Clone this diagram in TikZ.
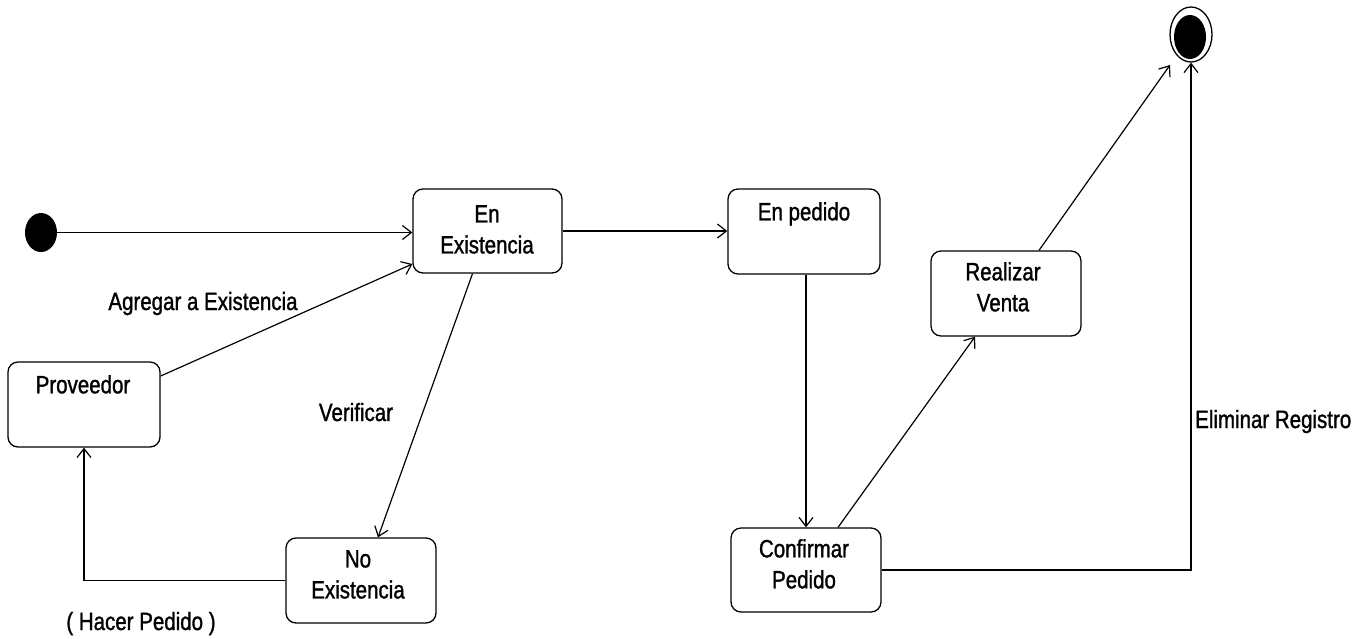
\documentclass[tikz,border=0pt]{standalone}
\usepackage{fontspec}
\setmainfont{Liberation Sans}[FakeStretch=0.82,FakeBold=1.2]
\usetikzlibrary{arrows.meta,shapes.geometric,calc}
\begin{document}
\begin{tikzpicture}[x=1pt,y=-1pt,
  statebox/.style={draw, rounded corners=10pt, line width=1.3pt, inner sep=0pt},
  txt/.style={font=\fontsize{25}{31}\selectfont, align=center, inner sep=0pt},
  arr/.style={line width=1.2pt, -{Straight Barb[length=9pt,width=14pt,line width=1.2pt]}}]
\useasboundingbox (0,0) rectangle (1364,638);
% initial and final states
\node[fill, ellipse, minimum width=32pt, minimum height=39pt, inner sep=0pt] (init) at (41,232.5) {};
\node[draw, ellipse, line width=1.3pt, minimum width=42pt, minimum height=55pt, inner sep=0pt] (fin) at (1191,34.5) {};
\node[fill, ellipse, minimum width=32pt, minimum height=44pt, inner sep=0pt] (finc) at (1190,37) {};
% states
\node[statebox, minimum width=149pt, minimum height=84pt] (ex) at (487.5,231) {};
\node[statebox, minimum width=152pt, minimum height=85pt] (ped) at (804,231.5) {};
\node[statebox, minimum width=152pt, minimum height=85pt] (prov) at (84,404.5) {};
\node[statebox, minimum width=150pt, minimum height=85pt] (noex) at (361,580.5) {};
\node[statebox, minimum width=150pt, minimum height=84pt] (conf) at (806,570) {};
\node[statebox, minimum width=150pt, minimum height=85pt] (real) at (1006,293.5) {};
% state texts
\node[txt, anchor=north] (exT) at (487,205) {En\\Existencia};
\node[txt, anchor=north] (pedT) at (804,202) {En pedido};
\node[txt, anchor=north] (provT) at (83,375) {Proveedor};
\node[txt, anchor=north] (noexT) at (358,550) {No\\Existencia};
\node[txt, anchor=north] (confT) at (804,539) {Confirmar\\Pedido};
\node[txt, anchor=north] (realT) at (1003,262) {Realizar\\Venta};
% transitions
\coordinate (finin) at (1170,65);
\draw[arr] (init) -- (init -| ex.west);
\draw[arr] ($(prov.east)+(0,-28.5)$) -- ($(ex.west)+(0,33)$);
\draw[arr] (ex.east) -- (ex.east -| ped.west);
\draw[arr] ($(ex.south)+(-15,0)$) -- ($(noex.north)+(17,0)$);
\draw[arr] (noex.west) -| (prov.south);
\draw[arr] (conf.north |- ped.south) -- (conf.north);
\draw[arr] ($(conf.north)+(32,0)$) -- ($(real.south)+(-31,0)$);
\draw[arr] ($(real.north)+(33,0)$) -- (finin);
\draw[arr] (conf.east) -| (fin.south);
% transition labels
\node[txt, anchor=base] (agr) at (203,310) {Agregar a Existencia};
\node[txt, anchor=base] (ver) at (356,421) {Verificar};
\node[txt, anchor=base] (hac) at (141,630) {( Hacer Pedido )};
\node[txt, anchor=base west] (eli) at (1195,428) {Eliminar Registro};
\end{tikzpicture}
\end{document}
